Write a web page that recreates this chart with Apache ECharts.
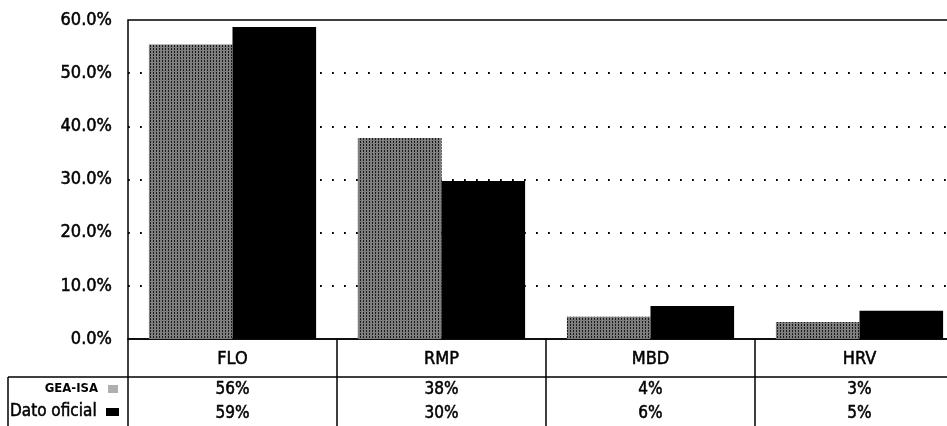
<!DOCTYPE html>
<html>
<head>
<meta charset="utf-8">
<script src="https://cdn.jsdelivr.net/npm/echarts@6/dist/echarts.min.js"></script>
<style>
  html, body { margin: 0; padding: 0; background: #fff; }
  #chart { width: 947px; height: 426px; }
</style>
</head>
<body>
<div id="chart"></div>
<script>
// categorias y valores
const categories = ['FLO', 'RMP', 'MBD', 'HRV'];
const geaIsa = [55.4, 37.8, 4.2, 3.2];
const datoOficial = [58.7, 29.7, 6.2, 5.3];
const geaLabels = ['56%', '38%', '4%', '3%'];
const datoLabels = ['59%', '30%', '6%', '5%'];
const rowNames = ['GEA-ISA', 'Dato oficial'];

const font = 'DejaVu Sans Condensed';
const black = '#000';
// trazo un poco mas grueso, el original es un escaneo
const heavy = { textBorderColor: black, textBorderWidth: 0.5 };

const chart = echarts.init(document.getElementById('chart'));

const tableAxis = (labels, offset, showLine) => ({
    type: 'category',
    gridIndex: 0,
    position: 'bottom',
    offset: offset,
    data: labels,
    axisLine: { show: showLine, lineStyle: { color: black, width: 1.5 } },
    axisTick: { show: false },
    splitLine: { show: false },
    axisLabel: Object.assign({ margin: 4, color: black, fontFamily: font, fontSize: 17, interval: 0 }, heavy)
});

chart.setOption({
    animation: false,
    backgroundColor: '#fff',
    grid: {
        left: 128, top: 20, right: -17, bottom: 87,
        outerBoundsMode: 'none',
        show: true, borderColor: black, borderWidth: 1.5
    },
    xAxis: [
        {
            type: 'category',
            data: categories,
            axisLine: { lineStyle: { color: black, width: 1.5 } },
            axisTick: { show: true, interval: 0, length: 88, lineStyle: { color: black, width: 1.5 } },
            axisLabel: Object.assign({ margin: 11, color: black, fontFamily: font, fontSize: 18 }, heavy)
        },
        tableAxis(geaLabels, 38, true),
        tableAxis(datoLabels, 62, false)
    ],
    yAxis: {
        type: 'value',
        min: 0, max: 60, interval: 10,
        axisLine: { show: false },
        axisTick: { show: false },
        axisLabel: Object.assign({
            margin: 16, color: black, fontFamily: font, fontSize: 18,
            formatter: v => v.toFixed(1) + '%'
        }, heavy),
        splitLine: {
            show: true, showMinLine: false, showMaxLine: false,
            lineStyle: { color: black, width: 1.8, type: [1.8, 10.2] }
        }
    },
    series: [
        {
            name: rowNames[0],
            type: 'bar',
            data: geaIsa,
            barGap: '0%',
            barCategoryGap: '20%',
            itemStyle: {
                color: '#7e7e7e',
                decal: {
                    symbol: 'rect', symbolSize: 1, color: '#1a1a1a',
                    dashArrayX: [1, 2], dashArrayY: [2, 1], rotation: 0
                }
            }
        },
        {
            name: rowNames[1],
            type: 'bar',
            data: datoOficial,
            itemStyle: { color: black }
        }
    ],
    graphic: [
        { type: 'line', shape: { x1: 8, y1: 377, x2: 128, y2: 377 }, style: { stroke: black, lineWidth: 1.5 } },
        { type: 'line', shape: { x1: 8, y1: 377, x2: 8, y2: 426 }, style: { stroke: black, lineWidth: 1.5 } },
        { type: 'text', x: 98, y: 389, style: { text: rowNames[0], fontFamily: font, fontSize: 13, fontWeight: 'bold', fill: black, align: 'right', verticalAlign: 'middle' } },
        { type: 'rect', shape: { x: 108, y: 385, width: 10, height: 8 }, style: { fill: '#b0b0b0' } },
        { type: 'text', x: 10, y: 412, style: { text: rowNames[1], fontFamily: font, fontSize: 17, fill: black, stroke: black, lineWidth: 0.5, align: 'left', verticalAlign: 'middle' } },
        { type: 'rect', shape: { x: 106, y: 408, width: 13, height: 8 }, style: { fill: black } }
    ]
});
</script>
</body>
</html>
